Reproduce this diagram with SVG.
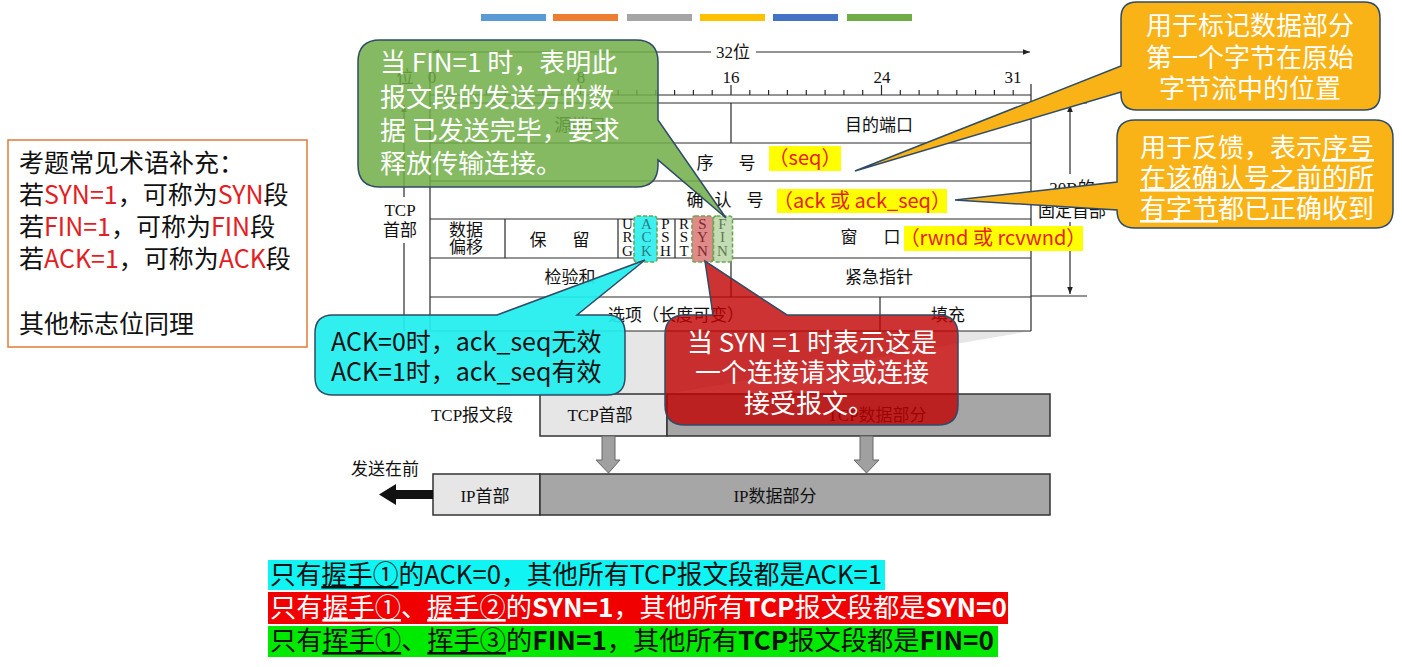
<svg xmlns="http://www.w3.org/2000/svg" width="1402" height="667" viewBox="0 0 1402 667">
<defs>
<style>
.ln{stroke:#2a2a2a;stroke-width:1.2;fill:none}
.s{font-family:"Liberation Serif","Noto Sans CJK SC",serif;font-size:17px;fill:#111;text-anchor:middle}
.fl{font-family:"Liberation Serif",serif;font-size:15px;text-anchor:middle}
.sans{font-family:"Noto Sans CJK SC","Noto Sans",sans-serif}
.wt{font-family:"Noto Sans CJK SC","Noto Sans",sans-serif;fill:#fff;font-size:26px}
.co{stroke:#2f4b66;stroke-width:1.5}
.yl{fill:#ffff00}
.yt{font-family:"Noto Sans CJK SC","Noto Sans",sans-serif;font-size:20px;fill:#e8201a;text-anchor:middle}
.red{fill:#e31e24}
.dash{stroke:#6aa84f;stroke-width:1.6;stroke-dasharray:4 2}
.u{text-decoration:underline}
.b{font-weight:bold}
</style>
<marker id="ah" viewBox="0 0 10 10" refX="10" refY="5" markerWidth="10" markerHeight="7" markerUnits="userSpaceOnUse" orient="auto-start-reverse"><path d="M0,1 L10,5 L0,9 z" fill="#222"/></marker>
</defs>
<rect width="1402" height="667" fill="#fff"/>

<g id="topbars">
<rect x="481" y="14" width="65" height="7" fill="#5b9bd5"/>
<rect x="553" y="14" width="65" height="7" fill="#ed7d31"/>
<rect x="627" y="14" width="65" height="7" fill="#a5a5a5"/>
<rect x="700" y="14" width="65" height="7" fill="#ffc000"/>
<rect x="773" y="14" width="65" height="7" fill="#4472c4"/>
<rect x="847" y="14" width="65" height="7" fill="#70ad47"/>
</g>

<g id="projection">
<polygon points="430,331 1031,331 667,394 540,394" fill="#e6e6e6"/>
</g>

<g id="tcp-header-table">
<line class="ln" x1="432" y1="52" x2="711" y2="52" marker-start="url(#ah)"/>
<line class="ln" x1="756" y1="52" x2="1030" y2="52" marker-end="url(#ah)"/>
<text class="s" x="733" y="58" font-size="18">32位</text>
<text class="s" x="405" y="83">位</text>
<text class="s" x="432" y="83" text-anchor="start">0</text>
<text class="s" x="581" y="83" text-anchor="start">8</text>
<text class="s" x="731" y="83" text-anchor="start">16</text>
<text class="s" x="882" y="83" text-anchor="start">24</text>
<text class="s" x="1013" y="83" text-anchor="start">31</text>
<path class="ln" d="M430,95 H1031 M448.8,90V95 M467.6,90V95 M486.4,90V95 M505.3,90V95 M524.1,90V95 M542.9,90V95 M561.7,90V95 M599.3,90V95 M618.1,90V95 M636.9,90V95 M655.8,90V95 M674.6,90V95 M693.4,90V95 M712.2,90V95 M749.8,90V95 M768.6,90V95 M787.4,90V95 M806.3,90V95 M825.1,90V95 M843.9,90V95 M862.7,90V95 M900.3,90V95 M919.1,90V95 M937.9,90V95 M956.8,90V95 M975.6,90V95 M994.4,90V95 M1013.2,90V95 M580.5,85V95 M731,85V95 M881.5,85V95 M1031,84V95"/>
<path class="ln" d="M430,60 V331 M1031,95 V331 M430,103 H1031 M430,143 H1031 M430,181 H1031 M430,219 H1031 M430,258 H1031 M430,297 H1031 M430,331 H1031 M731,103 V143 M731,219 V297 M505,219 V258 M618,219 V258 M637,219 V258 M656,219 V258 M675,219 V258 M693,219 V258 M712,219 V258 M880,297 V331"/>
<line class="ln" x1="404" y1="105" x2="404" y2="197" marker-start="url(#ah)"/>
<line class="ln" x1="404" y1="243" x2="404" y2="331"/>
<text class="s" x="400" y="216">TCP</text>
<text class="s" x="400" y="236">首部</text>
<line class="ln" x1="1031" y1="103" x2="1087" y2="103"/>
<line class="ln" x1="1031" y1="296" x2="1087" y2="296"/>
<line class="ln" x1="1070" y1="105" x2="1070" y2="174" marker-start="url(#ah)"/>
<line class="ln" x1="1070" y1="222" x2="1070" y2="294" marker-end="url(#ah)"/>
<text class="s" x="1072" y="194">20B的</text>
<text class="s" x="1072" y="217">固定首部</text>
<text class="s" x="580" y="131">源端口</text>
<text class="s" x="879" y="131">目的端口</text>
<text class="s" x="705" y="169" font-size="18">序</text>
<text class="s" x="747" y="169" font-size="18">号</text>
<text class="s" x="695" y="206" font-size="18">确</text>
<text class="s" x="723" y="206" font-size="18">认</text>
<text class="s" x="755" y="206" font-size="18">号</text>
<text class="s" x="466" y="236">数据</text>
<text class="s" x="466" y="253">偏移</text>
<text class="s" x="538" y="246" font-size="18">保</text>
<text class="s" x="581" y="246" font-size="18">留</text>
<text class="s" x="849" y="243" font-size="18">窗</text>
<text class="s" x="892" y="243" font-size="18">口</text>
<text class="s" x="570" y="283" font-size="18">检验和</text>
<text class="s" x="879" y="283" font-size="18">紧急指针</text>
<text class="s" x="676" y="321">选项（长度可变）</text>
<text class="s" x="948" y="321" font-size="18">填充</text>
</g>

<g id="flags">
<rect class="dash" x="634" y="216" width="23" height="46" rx="3" fill="#3ff0f0"/>
<rect class="dash" x="692" y="216" width="21" height="46" rx="3" fill="#e08a8a"/>
<rect class="dash" x="713.5" y="216" width="19" height="46" rx="3" fill="#c4dcb4"/>
<g class="fl" fill="#111"><text x="627.5" y="229">U</text><text x="627.5" y="242">R</text><text x="627.5" y="256">G</text>
<text x="665.5" y="229">P</text><text x="665.5" y="242">S</text><text x="665.5" y="256">H</text>
<text x="684" y="229">R</text><text x="684" y="242">S</text><text x="684" y="256">T</text></g>
<g class="fl" fill="#2a7f86"><text x="646.5" y="229">A</text><text x="646.5" y="242">C</text><text x="646.5" y="256">K</text></g>
<g class="fl" fill="#7a2a2a"><text x="702.5" y="229">S</text><text x="702.5" y="242">Y</text><text x="702.5" y="256">N</text></g>
<g class="fl" fill="#5d7a50"><text x="722.5" y="229">F</text><text x="722.5" y="242">I</text><text x="722.5" y="256">N</text></g>
</g>

<g id="highlights">
<rect class="yl" x="769" y="146" width="72" height="25"/>
<text class="yt" x="805" y="165" font-size="21">（seq）</text>
<rect class="yl" x="777" y="189" width="170" height="24"/>
<text class="yt" x="862" y="208">（ack 或 ack_seq）</text>
<rect class="yl" x="904" y="226" width="179" height="25"/>
<text class="yt" x="993" y="245">（rwnd 或 rcvwnd）</text>
</g>

<g id="segment">
<rect x="540" y="394" width="127" height="42" fill="#e6e6e6" stroke="#333" stroke-width="1.5"/>
<rect x="667" y="394" width="383" height="42" fill="#a6a6a6" stroke="#333" stroke-width="1.5"/>
<text class="s" x="472" y="421" font-size="18">TCP报文段</text>
<text class="s" x="600" y="421" font-size="18">TCP首部</text>
<text class="s" x="877" y="421" font-size="18">TCP数据部分</text>
<polygon points="602,436 615,436 615,460 620,460 608.5,473 596,460 602,460" fill="#a0a0a0" stroke="#666"/>
<polygon points="860,436 873,436 873,460 879,460 866.5,473 854,460 860,460" fill="#a0a0a0" stroke="#666"/>
<rect x="433" y="474" width="107" height="41" fill="#e6e6e6" stroke="#333" stroke-width="1.5"/>
<rect x="540" y="474" width="510" height="41" fill="#a6a6a6" stroke="#333" stroke-width="1.5"/>
<text class="s" x="485" y="502" font-size="18">IP首部</text>
<text class="s" x="775" y="502" font-size="18">IP数据部分</text>
<text class="s" x="385" y="475" font-size="18">发送在前</text>
<polygon points="433,490 396,490 396,484 379,494.5 396,505 396,499 433,499" fill="#111"/>
</g>

<g id="terms-box">
<rect x="8" y="140" width="299" height="207" fill="#fff" stroke="#e07b39" stroke-width="1.5"/>
<g class="sans" font-size="25" fill="#111">
<text x="19" y="172">考题常见术语补充：</text>
<text x="19" y="204">若<tspan class="red">SYN=1</tspan>，可称为<tspan class="red">SYN</tspan>段</text>
<text x="19" y="236">若<tspan class="red">FIN=1</tspan>，可称为<tspan class="red">FIN</tspan>段</text>
<text x="19" y="268">若<tspan class="red">ACK=1</tspan>，可称为<tspan class="red">ACK</tspan>段</text>
<text x="19" y="333">其他标志位同理</text>
</g>
</g>

<g id="fin-callout">
<path class="co" d="M380,40 H636 Q658,40 658,62 V120 L726,218 L658,160 V165 Q658,187 636,187 H380 Q358,187 358,165 V62 Q358,40 380,40 Z" fill="#70ad47" fill-opacity="0.85"/>
<text class="wt" x="380" y="72">当 FIN=1 时，表明此</text>
<text class="wt" x="380" y="107">报文段的发送方的数</text>
<text class="wt" x="380" y="140">据 已发送完毕，要求</text>
<text class="wt" x="380" y="173">释放传输连接。</text>
</g>

<g id="seq-callout">
<path class="co" d="M1137,2 H1364 Q1380,2 1380,18 V94 Q1380,110 1364,110 H1137 Q1121,110 1121,94 V92 L855,171 L1121,66 V18 Q1121,2 1137,2 Z" fill="#f9b316"/>
<g class="wt" text-anchor="middle" font-size="26.5">
<text x="1250" y="35">用于标记数据部分</text>
<text x="1250" y="67">第一个字节在原始</text>
<text x="1250" y="98">字节流中的位置</text>
</g>
</g>

<g id="ack-callout">
<path class="co" d="M1135,120 H1375 Q1393,120 1393,138 V210 Q1393,228 1375,228 H1135 Q1117,228 1117,210 L955,200 L1117,182 V138 Q1117,120 1135,120 Z" fill="#f9b316"/>
<g class="wt" font-size="27">
<text x="1140" y="157">用于反馈，表示<tspan class="u">序号</tspan></text>
<text x="1140" y="187" class="u">在该确认号之前的所</text>
<text x="1140" y="218"><tspan class="u">有字节</tspan>都已正确收到</text>
</g>
</g>

<g id="ackflag-callout">
<path class="co" d="M333,315 H497 L645,260 L577,315 H607 Q625,315 625,333 V377 Q625,395 607,395 H333 Q315,395 315,377 V333 Q315,315 333,315 Z" fill="#22eeee" fill-opacity="0.93"/>
<g class="sans" font-size="25" fill="#111">
<text x="331" y="351">ACK=0时，ack_seq无效</text>
<text x="331" y="381">ACK=1时，ack_seq有效</text>
</g>
</g>

<g id="syn-callout">
<path class="co" d="M685,315 H713 L705,261 L787,315 H938 Q958,315 958,335 V405 Q958,425 938,425 H685 Q665,425 665,405 V335 Q665,315 685,315 Z" fill="#c00000" fill-opacity="0.8"/>
<g class="wt" text-anchor="middle">
<text x="812" y="352">当 SYN =1 时表示这是</text>
<text x="812" y="382">一个连接请求或连接</text>
<text x="809" y="413">接受报文。</text>
</g>
</g>

<g id="summary">
<rect x="268" y="560" width="617" height="30" fill="#10f4f4"/>
<rect x="268" y="592" width="740" height="32" fill="#f00000"/>
<rect x="268" y="626" width="730" height="31" fill="#00ea00"/>
<g class="sans" font-size="26">
<text x="270" y="584" fill="#111" textLength="612" lengthAdjust="spacingAndGlyphs">只有<tspan class="u">握手①</tspan>的ACK=0，其他所有TCP报文段都是ACK=1</text>
<text x="270" y="617" fill="#fff" textLength="737" lengthAdjust="spacingAndGlyphs">只有<tspan class="u">握手①</tspan>、<tspan class="u">握手②</tspan>的<tspan class="b">SYN=1</tspan>，其他所有<tspan class="b">TCP</tspan>报文段都是<tspan class="b">SYN=0</tspan></text>
<text x="270" y="650" fill="#111" textLength="724" lengthAdjust="spacingAndGlyphs">只有<tspan class="u">挥手①</tspan>、<tspan class="u">挥手③</tspan>的<tspan class="b">FIN=1</tspan>，其他所有<tspan class="b">TCP</tspan>报文段都是<tspan class="b">FIN=0</tspan></text>
</g>
</g>
</svg>
